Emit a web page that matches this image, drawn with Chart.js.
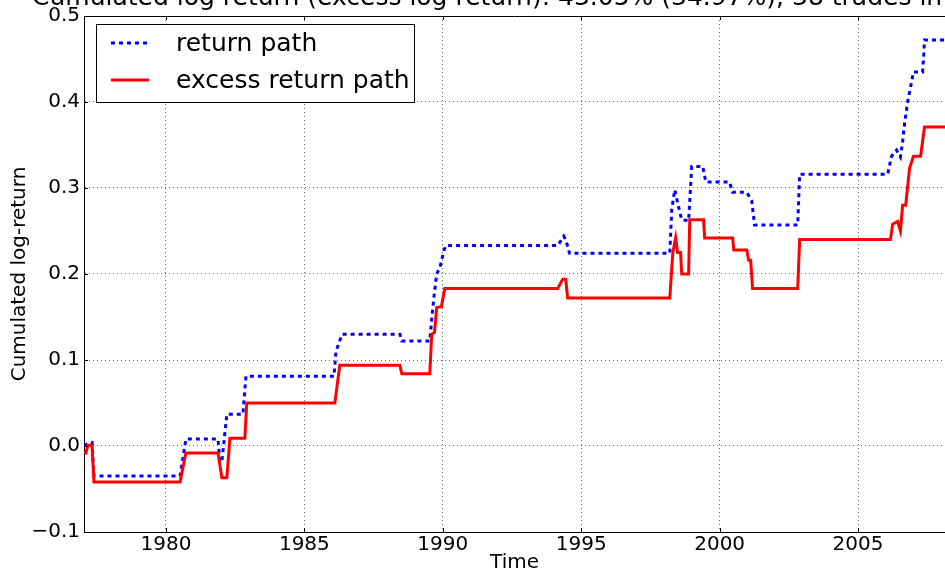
<!DOCTYPE html>
<html><head><meta charset="utf-8">
<script src="https://cdn.jsdelivr.net/npm/chart.js@4.4.1/dist/chart.umd.min.js"></script>
<style>html,body{margin:0;padding:0;background:#fff;overflow:hidden}#wrap{width:945px;height:575px;position:relative}</style>
</head><body><div id="wrap"><canvas id="c" width="945" height="575"></canvas></div>
<script>
const titleText = "Cumulated log return (excess log return): 43.05% (34.97%), 38 trades in";
const xLabel = "Time";
const yLabel = "Cumulated log-return";
const xTicks = [1980, 1985, 1990, 1995, 2000, 2005];
const yTicks = [-0.1, 0.0, 0.1, 0.2, 0.3, 0.4, 0.5];
const seriesNames = ["return path", "excess return path"];

const returnYears = [1977.04,1977.18,1977.33,1977.40,1980.51,1980.72,1981.88,1981.95,1982.02,1982.20,1982.78,1982.89,
  1986.07,1986.14,1986.36,1988.45,1988.52,1989.53,1989.60,1989.68,1989.78,1989.90,1990.04,1990.11,
  1994.15,1994.37,1994.44,1994.58,1998.20,1998.27,1998.38,1998.48,1998.63,1998.88,1998.99,1999.39,1999.50,
  2000.36,2000.47,2000.98,2001.16,2001.26,2002.82,2002.89,2006.07,2006.21,2006.39,2006.53,2006.61,2006.68,
  2006.79,2006.90,2007.00,2007.33,2007.37,2007.40,2008.20];
const returnValues = [0.000,0.003,0.004,-0.035,-0.035,0.008,0.008,-0.018,-0.018,0.037,0.037,0.081,
  0.081,0.110,0.130,0.130,0.122,0.122,0.148,0.173,0.200,0.208,0.227,0.233,
  0.233,0.244,0.240,0.224,0.224,0.275,0.298,0.283,0.263,0.262,0.325,0.325,0.307,
  0.307,0.295,0.295,0.285,0.257,0.257,0.316,0.316,0.337,0.344,0.336,0.354,0.375,
  0.400,0.418,0.435,0.435,0.453,0.472,0.472];

const excessYears = [1977.04,1977.11,1977.18,1977.33,1977.40,1980.51,1980.72,1981.88,1982.02,1982.20,1982.31,1982.85,
  1982.92,1986.10,1986.28,1988.45,1988.52,1989.53,1989.60,1989.70,1989.78,1989.95,1990.07,1994.15,1994.33,
  1994.44,1994.51,1998.20,1998.23,1998.31,1998.41,1998.48,1998.59,1998.63,1998.88,1998.92,1999.42,1999.46,
  2000.47,2000.51,2000.98,2001.05,2001.12,2001.19,2002.82,2002.89,2006.17,2006.25,2006.43,2006.53,2006.61,
  2006.72,2006.86,2007.00,2007.26,2007.40,2008.20];
const excessValues = [-0.007,-0.008,0.001,0.001,-0.042,-0.042,-0.008,-0.008,-0.037,-0.037,0.009,0.009,
  0.050,0.050,0.094,0.094,0.084,0.084,0.130,0.132,0.161,0.162,0.183,0.183,0.194,
  0.194,0.172,0.172,0.187,0.225,0.242,0.225,0.225,0.200,0.200,0.263,0.263,0.242,
  0.242,0.228,0.228,0.216,0.216,0.183,0.183,0.240,0.240,0.258,0.261,0.250,0.280,
  0.280,0.323,0.337,0.337,0.371,0.371];

const FONT = "'DejaVu Sans', sans-serif";
const toPts = (xs, ys) => xs.map((x, i) => ({x: x, y: ys[i]}));

const decor = {
  id: 'decor',
  afterDraw(chart) {
    const ctx = chart.ctx, a = chart.chartArea;
    const xs = chart.scales.x, ys = chart.scales.y;
    ctx.save();
    // top spine
    ctx.strokeStyle = '#000'; ctx.lineWidth = 1;
    ctx.beginPath(); ctx.moveTo(a.left, a.top + 0.5); ctx.lineTo(a.right, a.top + 0.5); ctx.stroke();
    // inward ticks
    ctx.beginPath();
    xTicks.forEach(v => { const p = Math.round(xs.getPixelForValue(v)) + 0.5;
      ctx.moveTo(p, a.bottom); ctx.lineTo(p, a.bottom - 4); ctx.moveTo(p, a.top); ctx.lineTo(p, a.top + 4); });
    yTicks.forEach(v => { const p = Math.round(ys.getPixelForValue(v)) + 0.5;
      ctx.moveTo(a.left, p); ctx.lineTo(a.left + 4, p); });
    ctx.stroke();
    // title
    ctx.fillStyle = '#000';
    ctx.font = "25px " + FONT;
    ctx.textAlign = 'left'; ctx.textBaseline = 'alphabetic';
    ctx.fillText(titleText, 32, 5);
    // legend
    const bx = 96, by = 24, bw = 318, bh = 78;
    ctx.fillStyle = '#fff';
    ctx.fillRect(bx, by, bw, bh);
    ctx.strokeStyle = '#000'; ctx.lineWidth = 1;
    ctx.strokeRect(bx + 0.5, by + 0.5, bw, bh);
    const rows = [{y: 43, ds: chart.data.datasets[1]}, {y: 80, ds: chart.data.datasets[0]}];
    rows.forEach(r => {
      ctx.strokeStyle = r.ds.borderColor; ctx.lineWidth = 3;
      ctx.setLineDash(r.ds.borderDash || []);
      ctx.beginPath(); ctx.moveTo(111, r.y); ctx.lineTo(149, r.y); ctx.stroke();
      ctx.setLineDash([]);
      ctx.fillStyle = '#000'; ctx.font = "25px " + FONT;
      ctx.textBaseline = 'middle';
      ctx.fillText(r.ds.label, 176, r.y + 1);
    });
    ctx.restore();
  }
};

new Chart(document.getElementById('c'), {
  type: 'line',
  data: {
    datasets: [
      { label: seriesNames[1], data: toPts(excessYears, excessValues), borderColor: '#ff0000',
        borderWidth: 3, pointRadius: 0, tension: 0, fill: false },
      { label: seriesNames[0], data: toPts(returnYears, returnValues), borderColor: '#0000ff',
        borderWidth: 3, borderDash: [4, 4], pointRadius: 0, tension: 0, fill: false }
    ]
  },
  options: {
    responsive: false, animation: false, devicePixelRatio: 1,
    layout: { padding: { top: 12, right: 0, left: 0, bottom: 0 } },
    plugins: { legend: { display: false }, tooltip: { enabled: false }, title: { display: false } },
    scales: {
      x: {
        type: 'linear', min: 1977.04, max: 2008.14,
        afterBuildTicks: s => { s.ticks = xTicks.map(v => ({value: v})); },
        afterFit: s => { s.height = 43; },
        grid: { color: 'rgba(0,0,0,0.6)', lineWidth: 1, drawTicks: false, tickLength: 0 },
        border: { display: true, color: '#000', width: 1, dash: [1, 3] },
        ticks: { color: '#000', font: { family: FONT, size: 20 }, padding: 1, maxRotation: 0,
          callback: v => String(v) },
        title: { display: true, text: xLabel, color: '#000', font: { family: FONT, size: 20 }, padding: { top: 0, bottom: 0 } }
      },
      y: {
        type: 'linear', min: -0.1, max: 0.5,
        afterBuildTicks: s => { s.ticks = yTicks.map(v => ({value: v})); },
        afterFit: s => { s.width = 84; },
        grid: { color: 'rgba(0,0,0,0.6)', lineWidth: 1, drawTicks: false, tickLength: 0 },
        border: { display: true, color: '#000', width: 1, dash: [1, 3] },
        ticks: { color: '#000', font: { family: FONT, size: 20 }, padding: 4,
          callback: v => (v < 0 ? '\u2212' : '') + Math.abs(v).toFixed(1) },
        title: { display: true, text: yLabel, color: '#000', font: { family: FONT, size: 20 }, padding: { top: 8, bottom: 0 } }
      }
    }
  },
  plugins: [decor]
});
</script>
</body></html>
